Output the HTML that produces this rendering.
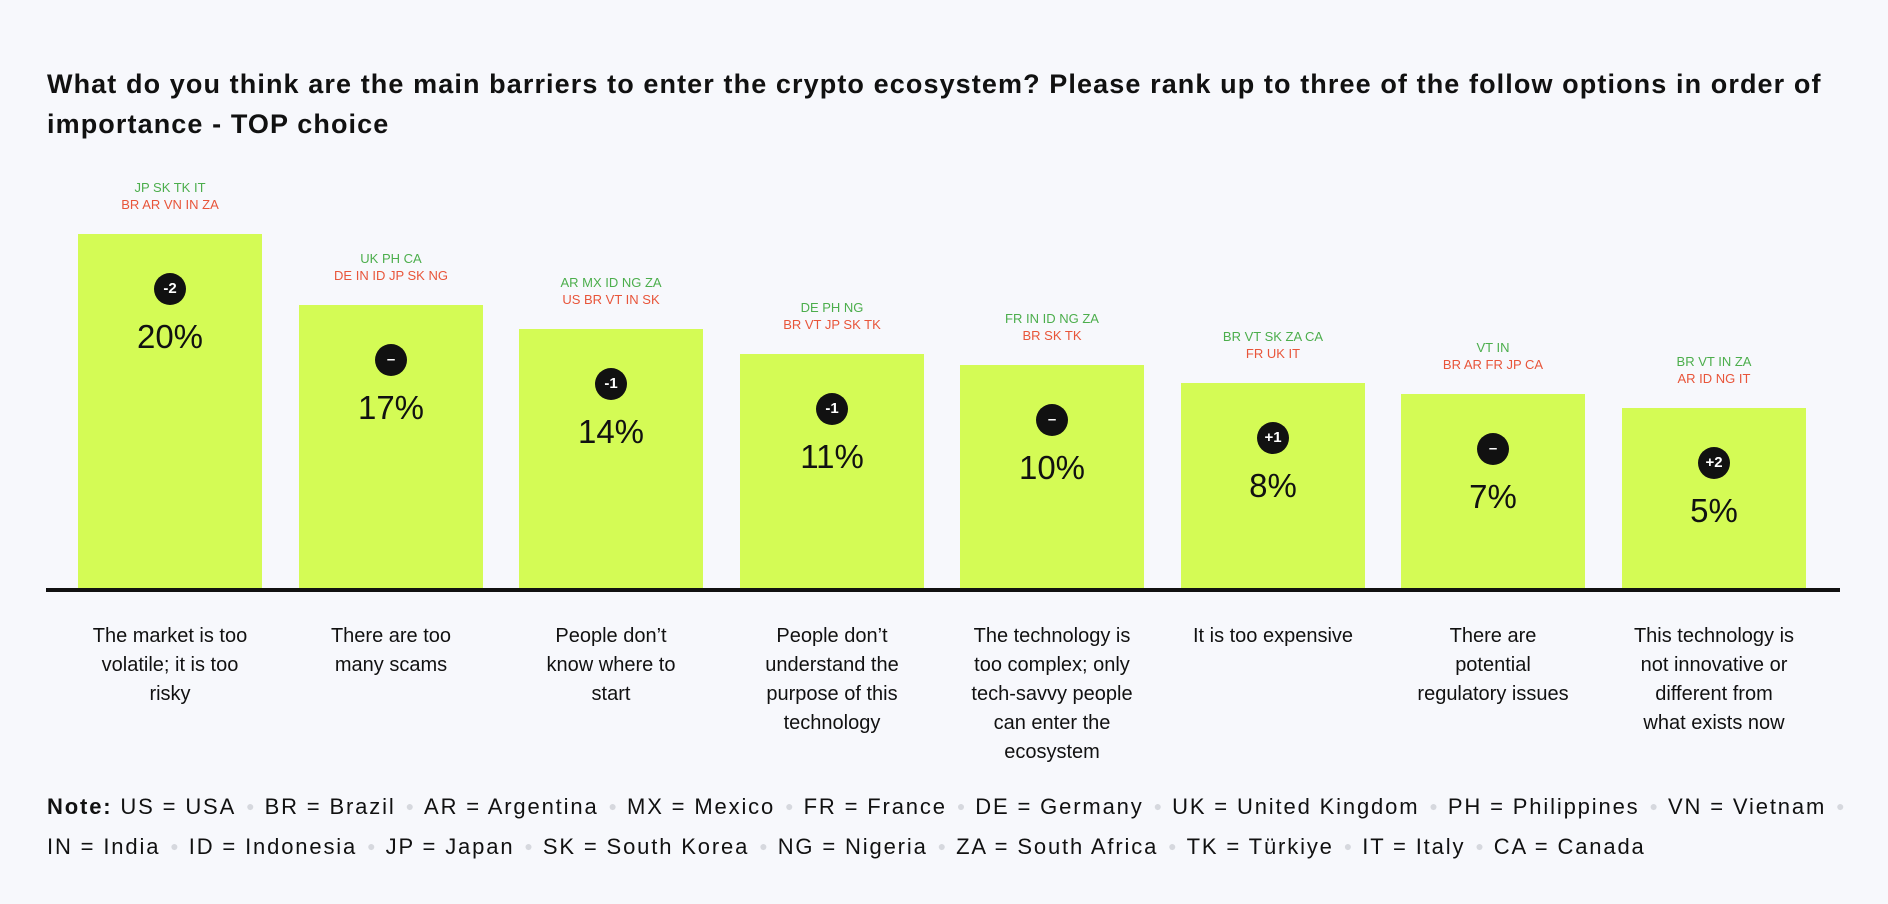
<!DOCTYPE html>
<html><head><meta charset="utf-8"><style>
body{margin:0;width:1888px;height:904px;background:#f7f8fc;font-family:"Liberation Sans",sans-serif;position:relative;overflow:hidden;color:#111}
.t{position:absolute;left:47px;top:64px;font-size:27px;font-weight:bold;line-height:40px;width:1830px;letter-spacing:1.1px;white-space:nowrap}
.bar{position:absolute;width:184px;background:#d4fb55;bottom:314px}
.badge{position:absolute;left:76px;width:32px;height:32px;border-radius:50%;background:#111;color:#fff;font-size:15px;font-weight:bold;text-align:center;line-height:32px}
.pct{position:absolute;left:0;width:184px;text-align:center;font-size:33px}
.cc{position:absolute;width:230px;text-align:center;font-size:13px;line-height:17px}
.g{color:#4cae4c}.r{color:#e8553a}
.lab{position:absolute;top:622px;width:220px;text-align:center;font-size:20px;line-height:29px;white-space:nowrap}
.axis{position:absolute;left:46px;width:1794px;top:588px;height:4px;background:#111}
.note{position:absolute;left:47px;font-size:22px;white-space:nowrap;letter-spacing:1.85px}
.d{color:#d6d8de;font-size:14px;vertical-align:3px;margin:0 10px;letter-spacing:0}
</style></head><body>
<div class="t">What do you think are the main barriers to enter the crypto ecosystem? Please rank up to three of the follow options in order of<br>importance - TOP choice</div>

<div class="bar" style="left:78px;top:234px"><div class="badge" style="top:39px">-2</div><div class="pct" style="top:84px">20%</div></div>
<div class="bar" style="left:299px;top:305px"><div class="badge" style="top:39px">–</div><div class="pct" style="top:84px">17%</div></div>
<div class="bar" style="left:519px;top:329px"><div class="badge" style="top:39px">-1</div><div class="pct" style="top:84px">14%</div></div>
<div class="bar" style="left:740px;top:354px"><div class="badge" style="top:39px">-1</div><div class="pct" style="top:84px">11%</div></div>
<div class="bar" style="left:960px;top:365px"><div class="badge" style="top:39px">–</div><div class="pct" style="top:84px">10%</div></div>
<div class="bar" style="left:1181px;top:383px"><div class="badge" style="top:39px">+1</div><div class="pct" style="top:84px">8%</div></div>
<div class="bar" style="left:1401px;top:394px"><div class="badge" style="top:39px">–</div><div class="pct" style="top:84px">7%</div></div>
<div class="bar" style="left:1622px;top:408px"><div class="badge" style="top:39px">+2</div><div class="pct" style="top:84px">5%</div></div>

<div class="cc" style="left:55px;top:179px"><span class="g">JP SK TK IT</span><br><span class="r">BR AR VN IN ZA</span></div>
<div class="cc" style="left:276px;top:250px"><span class="g">UK PH CA</span><br><span class="r">DE IN ID JP SK NG</span></div>
<div class="cc" style="left:496px;top:274px"><span class="g">AR MX ID NG ZA</span><br><span class="r">US BR VT IN SK</span></div>
<div class="cc" style="left:717px;top:299px"><span class="g">DE PH NG</span><br><span class="r">BR VT JP SK TK</span></div>
<div class="cc" style="left:937px;top:310px"><span class="g">FR IN ID NG ZA</span><br><span class="r">BR SK TK</span></div>
<div class="cc" style="left:1158px;top:328px"><span class="g">BR VT SK ZA CA</span><br><span class="r">FR UK IT</span></div>
<div class="cc" style="left:1378px;top:339px"><span class="g">VT IN</span><br><span class="r">BR AR FR JP CA</span></div>
<div class="cc" style="left:1599px;top:353px"><span class="g">BR VT IN ZA</span><br><span class="r">AR ID NG IT</span></div>

<div class="axis"></div>

<div class="lab" style="left:60px">The market is too<br>volatile; it is too<br>risky</div>
<div class="lab" style="left:281px">There are too<br>many scams</div>
<div class="lab" style="left:501px">People don’t<br>know where to<br>start</div>
<div class="lab" style="left:722px">People don’t<br>understand the<br>purpose of this<br>technology</div>
<div class="lab" style="left:942px">The technology is<br>too complex; only<br>tech-savvy people<br>can enter the<br>ecosystem</div>
<div class="lab" style="left:1163px">It is too expensive</div>
<div class="lab" style="left:1383px">There are<br>potential<br>regulatory issues</div>
<div class="lab" style="left:1604px">This technology is<br>not innovative or<br>different from<br>what exists now</div>

<div class="note" style="top:794px"><b>Note:</b> US = USA<span class="d">●</span>BR = Brazil<span class="d">●</span>AR = Argentina<span class="d">●</span>MX = Mexico<span class="d">●</span>FR = France<span class="d">●</span>DE = Germany<span class="d">●</span>UK = United Kingdom<span class="d">●</span>PH = Philippines<span class="d">●</span>VN = Vietnam<span class="d">●</span></div>
<div class="note" style="top:834px">IN = India<span class="d">●</span>ID = Indonesia<span class="d">●</span>JP = Japan<span class="d">●</span>SK = South Korea<span class="d">●</span>NG = Nigeria<span class="d">●</span>ZA = South Africa<span class="d">●</span>TK = Türkiye<span class="d">●</span>IT = Italy<span class="d">●</span>CA = Canada</div>
</body></html>
